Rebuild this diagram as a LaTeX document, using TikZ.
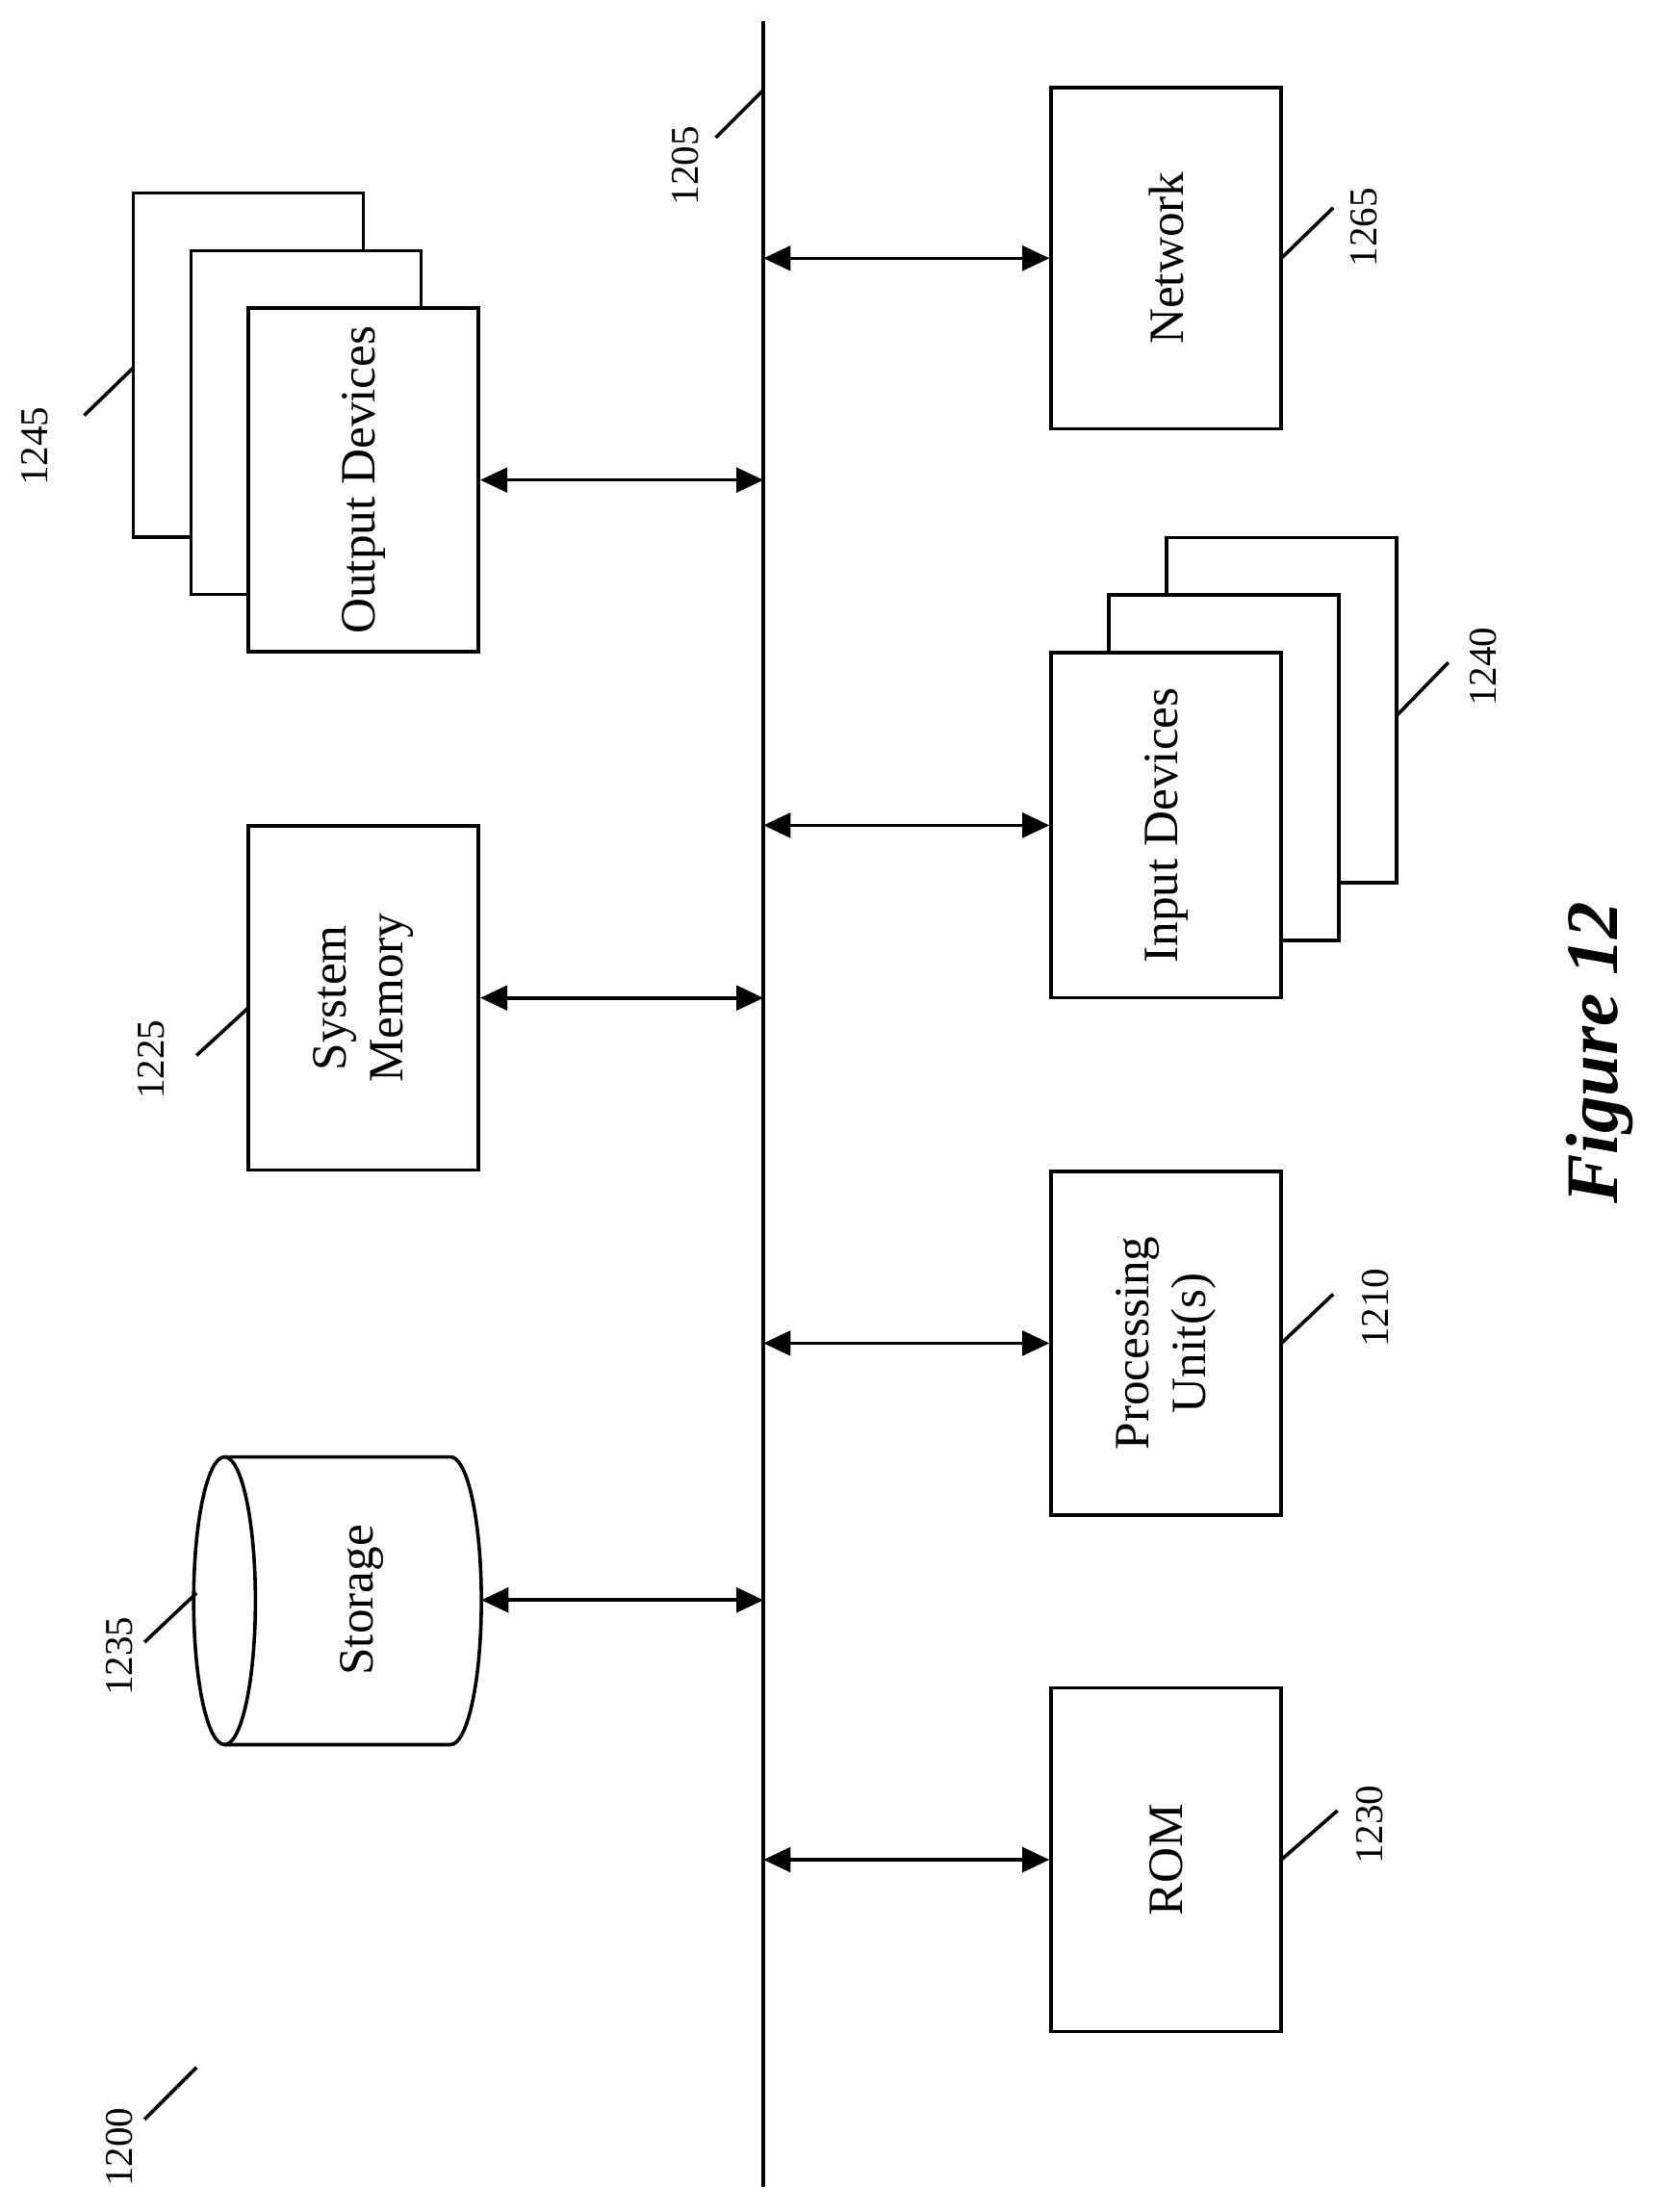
\documentclass[tikz,border=0pt]{standalone}
\usepackage{fontspec}
\setmainfont{Liberation Serif}
\usetikzlibrary{positioning, arrows.meta, calc}

\begin{document}
\begin{tikzpicture}[
  x=0.02cm, y=-0.02cm,
  >={Triangle[length=11pt,width=10pt]},
  line width=1.4pt,
  every node/.style={font=\fontsize{20}{23}\selectfont},
  box/.style={draw, fill=white, rotate=90, align=center, inner sep=0pt},
  ref/.style={rotate=90, font=\fontsize{16}{18}\selectfont},
  link/.style={<->, line width=1.4pt}
]
\useasboundingbox (0,0) rectangle (1188,1576);

% bus
\coordinate (busT) at (544,15);
\coordinate (busB) at (544,1558);
\draw (busT) -- (busB);
\node[ref] (l1205) at (488,118) {1205};
\draw (510,98) -- (544,64);

% right column
\node[box, minimum width=4.86cm, minimum height=3.28cm] (net) at (831,184) {Network};
\node[box, minimum width=4.92cm, minimum height=3.28cm] (in3) at (913,506) {};
\node[box, minimum width=4.92cm, minimum height=3.28cm] (in2) at (872,547) {};
\node[box, minimum width=4.92cm, minimum height=3.28cm] (in1) at (831,588) {Input Devices};
\node[box, minimum width=4.9cm, minimum height=3.28cm] (cpu) at (831,957) {Processing\\Unit(s)};
\node[box, minimum width=4.9cm, minimum height=3.28cm] (rom) at (831,1325) {ROM};

% left column
\node[box, minimum width=4.9cm, minimum height=3.28cm] (out3) at (177,260) {};
\node[box, minimum width=4.9cm, minimum height=3.28cm] (out2) at (218,301) {};
\node[box, minimum width=4.9cm, minimum height=3.28cm] (out1) at (259,342) {Output Devices};
\node[box, minimum width=4.9cm, minimum height=3.28cm] (mem) at (259,711) {System\\Memory};

% storage cylinder
\draw (160,1038) -- (321,1038) arc[start angle=-90, end angle=90, x radius=22, y radius=102.5]
  -- (160,1243);
\draw (160,1140.5) ellipse[x radius=22, y radius=102.5];
\node[rotate=90] (sto) at (258,1140) {Storage};
\coordinate (stoR) at (343,1140);

% bus links
\foreach \n in {net,in1,cpu,rom,out1,mem}
  \draw[link] (\n) -- (\n -| busT);
\draw[link] (stoR) -- (stoR -| busT);

% reference numerals
\node[ref] (l1265) at (972,162) {1265};
\draw (913,184) -- (950,148);
\node[ref] (l1240) at (1057,475) {1240};
\draw (995,510) -- (1032,472);
\node[ref] (l1210) at (980,932) {1210};
\draw (913,957) -- (950,922);
\node[ref] (l1230) at (976,1300) {1230};
\draw (913,1325) -- (953,1290);
\node[ref] (l1245) at (25,318) {1245};
\draw (60,296) -- (95,262);
\node[ref] (l1225) at (108,755) {1225};
\draw (140,752) -- (177,718);
\node[ref] (l1235) at (85,1180) {1235};
\draw (103,1170) -- (140,1135);
\node[ref] (l1200) at (85,1530) {1200};
\draw (103,1510) -- (140,1473);

\node[rotate=90, font=\fontsize{30}{34}\selectfont\bfseries\itshape] (fig) at (1140,750) {Figure 12};
\end{tikzpicture}
\end{document}
